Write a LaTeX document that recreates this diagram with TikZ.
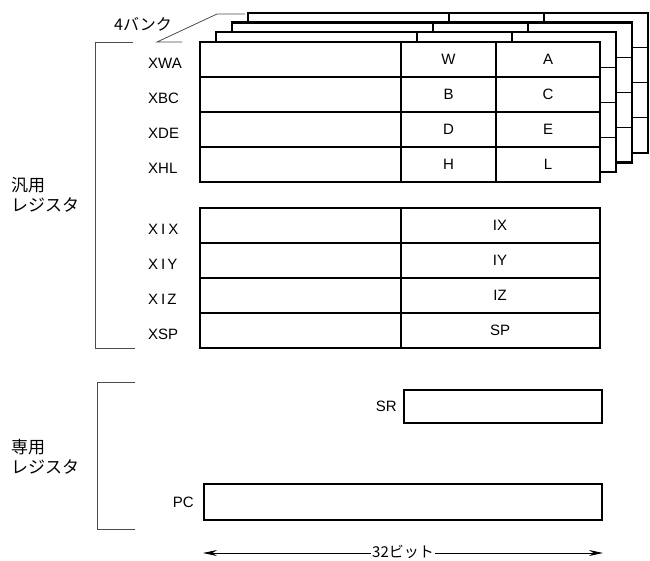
\documentclass[tikz,border=0pt]{standalone}
\usepackage{fontspec}
\setmainfont{Liberation Sans}
\newfontfamily\jp{Noto Sans CJK JP}
\usetikzlibrary{arrows.meta}
\begin{document}
\begin{tikzpicture}[x=1pt,y=-1pt,
  outer/.style={line width=2.2pt},
  inner/.style={line width=1.1pt},
  brk/.style={line width=0.8pt, black!70},
  reg/.style={font=\fontsize{15}{18}\selectfont, inner sep=0pt},
  lbl/.style={font=\fontsize{15}{18}\selectfont, anchor=west, inner sep=0pt},
  jlab/.style={font=\jp\fontsize{17}{20}\selectfont, anchor=west, inner sep=0pt, align=left},
  regbox/.style={draw, line width=2.2pt, anchor=north west, inner sep=0pt},
]
\useasboundingbox (0,0) rectangle (650,560);

% ---- four banks (back to front) ----
\foreach \k in {3,2,1,0} {
  \begin{scope}[shift={(16*\k,-9.75*\k)}]
    \fill[white] (200,42) rectangle (600,182);
    \foreach \yy in {77,112,147} { \draw[inner] (200,\yy) -- (600,\yy); }
    \draw[inner] (401,42) -- (401,182);
    \draw[inner] (496,42) -- (496,182);
    \draw[outer] (200,42) rectangle (600,182);
  \end{scope}
}

% front bank letters
\node[reg] (w) at (448.5,59.5) {W};
\node[reg] (a) at (548,59.5) {A};
\node[reg] (b) at (448.5,94.5) {B};
\node[reg] (c) at (548,94.5) {C};
\node[reg] (d) at (448.5,129.5) {D};
\node[reg] (e) at (548,129.5) {E};
\node[reg] (h) at (448.5,164.5) {H};
\node[reg] (l) at (548,164.5) {L};

% register names, bank part
\node[lbl] (xwa) at (148,63) {XWA};
\node[lbl] (xbc) at (148,98) {XBC};
\node[lbl] (xde) at (148,133) {XDE};
\node[lbl] (xhl) at (148,168) {XHL};

% ---- index registers block ----
\foreach \yy in {243,278,313} { \draw[inner] (200,\yy) -- (600,\yy); }
\draw[inner] (401,208) -- (401,348);
\draw[outer] (200,208) rectangle (600,348);
\node[reg] (ix) at (500,225.5) {IX};
\node[reg] (iy) at (500,260.5) {IY};
\node[reg] (iz) at (500,295.5) {IZ};
\node[reg] (sp) at (500,330.5) {SP};
\node[lbl] (xix) at (148,229.5) {X\hspace{3pt}I\hspace{3pt}X};
\node[lbl] (xiy) at (148,264.5) {X\hspace{3pt}I\hspace{2pt}Y};
\node[lbl] (xiz) at (148,299.5) {X\hspace{3pt}I\hspace{2pt}Z};
\node[lbl] (xsp) at (148,334) {XSP};

% ---- bracket and label: general registers ----
\draw[brk] (133,42) -- (95,42) -- (95,348) -- (135,348);
\node[jlab] (gen) at (11,195) {汎用\\レジスタ};

% bank leader and label
\coordinate (ld1) at (182,42);
\coordinate (ld2) at (157,42);
\coordinate (ld3) at (217,14);
\coordinate (ld4) at (245,14);
\draw[brk] (ld1) -- (ld2) -- (ld3) -- (ld4);
\node[font=\jp\fontsize{16}{18}\selectfont, anchor=west, inner sep=0pt] (bank) at (114,24) {4バンク};

% ---- dedicated registers ----
\draw[brk] (135,382) -- (97,382) -- (97,529) -- (135,529);
\node[jlab] (ded) at (11,457) {専用\\レジスタ};

\node[regbox, minimum width=198pt, minimum height=33pt] (sr) at (403,389) {};
\node[lbl, anchor=east] (srl) at ([xshift=-6pt]sr.west) {SR};
\node[regbox, minimum width=398pt, minimum height=36pt] (pc) at (203,483) {};
\node[lbl, anchor=east] (pcl) at ([xshift=-9pt]pc.west) {PC};

% ---- width arrow ----
\coordinate (al) at (203,553);
\coordinate (ar) at (603,553);
\draw[line width=0.9pt, {Stealth[length=14pt,width=6pt]}-{Stealth[length=14pt,width=6pt]}] (al) -- (ar);
\node[fill=white, inner sep=1pt, font=\jp\fontsize{15}{17}\selectfont] (bits) at (403,551.5) {32ビット};
\end{tikzpicture}
\end{document}
